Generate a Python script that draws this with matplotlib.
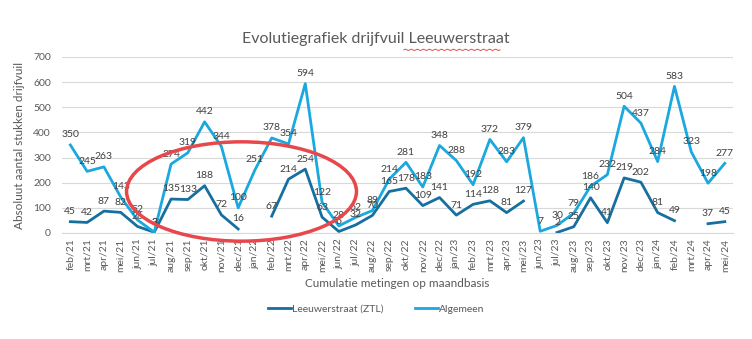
import numpy as np
import matplotlib
matplotlib.use("Agg")
import matplotlib.pyplot as plt
from matplotlib.patches import Ellipse

plt.rcParams["font.family"] = ["Lato", "DejaVu Sans"]

# ----- data -----
months = ["feb/21", "mrt/21", "apr/21", "mei/21", "jun/21", "jul/21", "aug/21", "sep/21",
          "okt/21", "nov/21", "dec/21", "jan/22", "feb/22", "mrt/22", "apr/22", "mei/22",
          "jun/22", "jul/22", "aug/22", "sep/22", "okt/22", "nov/22", "dec/22", "jan/23",
          "feb/23", "mrt/23", "apr/23", "mei/23", "jun/23", "jul/23", "aug/23", "sep/23",
          "okt/23", "nov/23", "dec/23", "jan/24", "feb/24", "mrt/24", "apr/24", "mei/24"]

leeuwerstraat = [45, 42, 87, 82, 26, 3, 135, 133, 188, 72, 16, np.nan, 67, 214, 254, 63,
                 6, 32, 70, 165, 178, 109, 141, 71, 114, 128, 81, 127, np.nan, 2, 25, 140,
                 41, 219, 202, 81, 49, np.nan, 37, 45]

algemeen = [350, 245, 263, 143, 52, 3, 274, 319, 442, 344, 100, 251, 378, 354, 594, 122,
            28, 62, 89, 214, 281, 183, 348, 288, 192, 372, 283, 379, 7, 30, 79, 186,
            232, 504, 437, 284, 583, 323, 198, 277]

dark_blue = "#156f9f"
light_blue = "#1aa8de"
text_grey = "#595959"

fig = plt.figure(figsize=(7.52, 3.39), dpi=100)
ax = fig.add_axes([0.0824, 0.3127, 0.8926, 0.5193])

x = np.arange(len(months))
ax.plot(x, leeuwerstraat, color=dark_blue, lw=2, label="Leeuwerstraat (ZTL)", solid_joinstyle="round")
ax.plot(x, algemeen, color=light_blue, lw=2, label="Algemeen", solid_joinstyle="round")

# data labels above the points
for series in (leeuwerstraat, algemeen):
    for xi, v in zip(x, series):
        if np.isnan(v):
            continue
        ax.annotate(f"{int(v)}", (xi, v), xytext=(0, 4), textcoords="offset points",
                    ha="center", va="bottom", fontsize=7.5, color="#404040", zorder=5)

ax.set_xlim(-0.5, len(months) - 0.5)
ax.set_ylim(0, 700)
ax.set_yticks(range(0, 701, 100))
ax.set_xticks(x)
ax.set_xticklabels(months, rotation=90, fontsize=7.5, color=text_grey)
ax.tick_params(axis="y", labelsize=7.5, colors=text_grey, length=0, pad=8)
ax.tick_params(axis="x", length=0, pad=4)
ax.grid(axis="y", color="#d9d9d9", lw=0.8)
ax.set_axisbelow(True)
for side in ["top", "right", "left"]:
    ax.spines[side].set_visible(False)
ax.spines["bottom"].set_color("#d9d9d9")

ax.set_ylabel("Absoluut aantal stukken drijfvuil", fontsize=8.5, color=text_grey, labelpad=6)
ax.set_xlabel("Cumulatie metingen op maandbasis", fontsize=8.5, color=text_grey, labelpad=4)

# red ellipse highlighting the period
ell = Ellipse((10.2, 165), width=13.7, height=395, fill=False, edgecolor="#e8474c",
              lw=2.5, clip_on=False, zorder=6)
ax.add_patch(ell)

fig.text(0.5, 0.885, "Evolutiegrafiek drijfvuil Leeuwerstraat", ha="center", va="center",
         fontsize=11.5, color=text_grey)
# spell-check squiggle under the last word
sx = np.linspace(0.537, 0.665, 120)
sy = 0.853 + 0.0018 * np.sin(np.linspace(0, 32 * np.pi, 120))
fig.add_artist(plt.Line2D(sx, sy, color="#e05050", lw=0.7))

fig.legend(loc="center", bbox_to_anchor=(0.5, 0.088), ncol=2, frameon=False,
           fontsize=7.5, labelcolor=text_grey, handlelength=2.2, handletextpad=0.1,
           columnspacing=3)

fig.savefig("out.png", dpi=100)
